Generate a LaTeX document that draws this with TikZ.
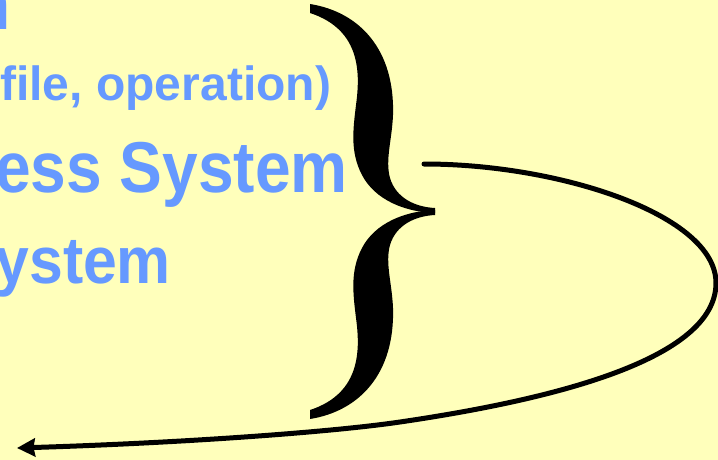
\documentclass[tikz,border=0pt]{standalone}
\usepackage{fontspec}
\usepackage{graphicx}
\setmainfont{Liberation Sans}
\usetikzlibrary{arrows.meta}
\definecolor{bgyellow}{RGB}{255,255,187}
\definecolor{txtblue}{RGB}{102,153,255}
\tikzset{
  txt/.style={anchor=base east, inner sep=0pt, outer sep=0pt, text=txtblue, font=\bfseries},
  bracefill/.style={fill=black, draw=none},
  loopline/.style={draw=black, line width=5pt, line cap=round, -{Stealth[length=18pt,width=18pt,inset=1.5pt]}}
}
\begin{document}
\begin{tikzpicture}[x=1pt,y=-1pt]
\useasboundingbox (0,0) rectangle (718,460);
\fill[bgyellow] (0,0) rectangle (718,460);
\clip (0,0) rectangle (718,460);
% texts (cut at the left edge)
\node[txt] (l1) at (11,30) {\fontsize{72}{80}\selectfont\scalebox{0.89}[1]{n}};
\node[txt] (l2) at (331,101) {\fontsize{48}{54}\selectfont\scalebox{1.0}[1]{file, operation)}};
\node[txt] (l3) at (348,192) {\fontsize{72}{80}\selectfont\scalebox{0.89}[1]{ess System}};
\node[txt] (l4) at (171,283) {\fontsize{66}{72}\selectfont\scalebox{0.92}[1]{ystem}};
% brace, upper arm
\path[bracefill] (310,4) .. controls (360,12) and (395,50) .. (393,115)
  .. controls (392,140) and (385,160) .. (390,178)
  .. controls (396,198) and (415,207) .. (435,208) -- (435,213)
  .. controls (405,212) and (375,200) .. (362,175)
  .. controls (350,152) and (353,130) .. (356,105)
  .. controls (360,75) and (362,30) .. (310,13) -- cycle;
% brace, lower arm
\path[bracefill] (310,419) .. controls (360,411) and (395,373) .. (393,308)
  .. controls (392,283) and (385,263) .. (390,245)
  .. controls (396,225) and (415,216) .. (435,215) -- (435,210)
  .. controls (405,211) and (375,223) .. (362,248)
  .. controls (350,271) and (353,293) .. (356,318)
  .. controls (360,348) and (362,393) .. (310,410) -- cycle;
% loop arrow
\coordinate (start) at (424,164);
\coordinate (far) at (716,283);
\coordinate (mid) at (400,422);
\coordinate (tip) at (17,448);
\draw[loopline] (start) .. controls (560,164) and (716,215) .. (far)
  .. controls (716,360) and (550,400) .. (mid)
  .. controls (330,432.3) and (180,443) .. (tip);
\end{tikzpicture}
\end{document}
